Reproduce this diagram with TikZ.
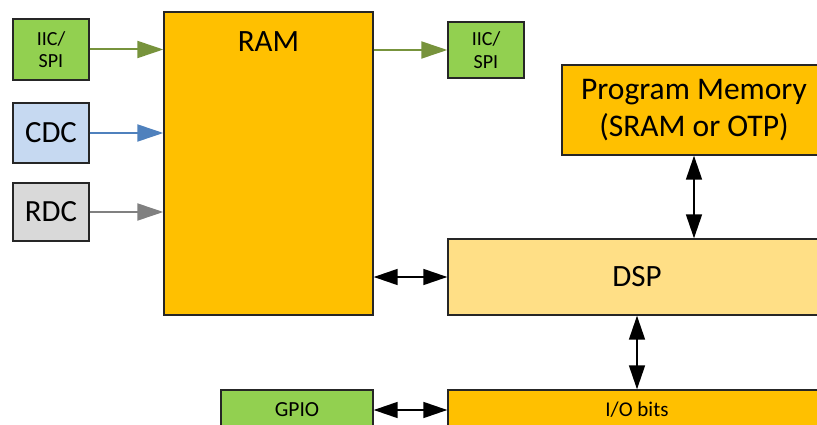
\documentclass[tikz,border=0pt]{standalone}
\usepackage{fontspec}
\setmainfont{Carlito}
\usetikzlibrary{arrows.meta}
\definecolor{gfill}{HTML}{92D050}
\definecolor{garrow}{HTML}{77933C}
\definecolor{bfill}{HTML}{C6D9F1}
\definecolor{barrow}{HTML}{4F81BD}
\definecolor{rfill}{HTML}{D9D9D9}
\definecolor{rarrow}{HTML}{808080}
\definecolor{ofill}{HTML}{FFC000}
\definecolor{dfill}{HTML}{FFDF86}
\tikzset{
  blk/.style={draw=black!85, line width=1.4pt, rectangle, inner sep=0pt, align=center},
  bi/.style={line width=1.6pt, black, {Triangle[length=24pt,width=16pt]}-{Triangle[length=24pt,width=16pt]}},
  uni/.style={line width=2pt, -{Triangle[length=26pt,width=17pt]}},
}
\begin{document}
\begin{tikzpicture}[x=1pt,y=-1pt]
\useasboundingbox (0,0) rectangle (817,425);
% left inputs
\node[blk, fill=gfill, minimum width=76pt, minimum height=61pt, font=\fontsize{20}{22.5}\selectfont] (iicl) at (51,49.5) {IIC/\\SPI};
\node[blk, fill=bfill, minimum width=76pt, minimum height=60pt, font=\fontsize{30.8}{34}\selectfont] (cdc) at (51,133) {CDC};
\node[blk, fill=rfill, minimum width=76pt, minimum height=58pt, font=\fontsize{30.8}{34}\selectfont] (rdc) at (51,212) {RDC};
% RAM
\node[blk, fill=ofill, minimum width=209pt, minimum height=303pt,
  label={[anchor=north, inner sep=0pt, yshift=-20pt, font=\fontsize{31}{36}\selectfont]north:RAM}] (ram) at (268.5,163.5) {};
% right IIC
\node[blk, fill=gfill, minimum width=76pt, minimum height=56pt, font=\fontsize{20}{22.5}\selectfont] (iicr) at (486,50) {IIC/\\SPI};
% program memory
\node[blk, fill=ofill, minimum width=264pt, minimum height=90pt, font=\fontsize{31.5}{37}\selectfont] (pm) at (694,110) {Program Memory\\(SRAM or OTP)};
% DSP
\node[blk, fill=dfill, minimum width=378pt, minimum height=76pt, font=\fontsize{31}{36}\selectfont] (dsp) at (637,277) {DSP};
% GPIO and IO bits
\node[blk, fill=gfill, minimum width=152pt, minimum height=40pt, font=\fontsize{21.5}{24}\selectfont] (gpio) at (297,410) {GPIO};
\node[blk, fill=ofill, minimum width=378pt, minimum height=40pt, font=\fontsize{21}{24}\selectfont] (io) at (637,410) {I/O bits};
% arrows
\draw[uni, garrow] (iicl.east) -- (iicl.east -| ram.west);
\draw[uni, barrow] (cdc.east) -- (cdc.east -| ram.west);
\draw[uni, rarrow] (rdc.east) -- (rdc.east -| ram.west);
\draw[uni, garrow] (iicr.west -| ram.east) -- (iicr.west);
\draw[bi] (dsp.west -| ram.east) -- (dsp.west);
\draw[bi] (pm.south) -- (pm.south |- dsp.north);
\draw[bi] (dsp.south) -- (io.north);
\draw[bi] (gpio.east) -- (io.west |- gpio.east);
\end{tikzpicture}
\end{document}
